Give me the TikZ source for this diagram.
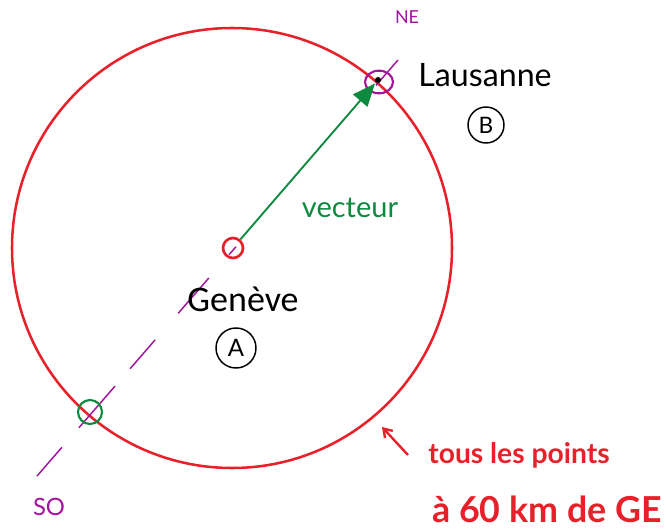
\documentclass[tikz,border=0pt]{standalone}
\usepackage{fontspec}
\setmainfont{Lato}
\newfontfamily\calib{Carlito}
\usetikzlibrary{arrows.meta,calc,shapes.geometric}
\definecolor{inkred}{HTML}{E8202A}
\definecolor{inkgreen}{HTML}{0D8A3E}
\definecolor{inkmag}{HTML}{A3149C}
\tikzset{
  hand/.style={inner sep=0pt,outer sep=0pt},
  ring/.style={circle,draw,line width=1.6pt,inner sep=0pt},
  magline/.style={inkmag,line width=1.1pt},
}
\begin{document}
\begin{tikzpicture}[x=0.75pt,y=-0.75pt]
\useasboundingbox (0,0) rectangle (666,531);
% big circle
\node[circle,draw=inkred,line width=1.9pt,minimum size=330pt,inner sep=0pt] (big) at (232,248) {};
% dashed magenta diameter line
\coordinate (so) at (37,476);
\coordinate (ne) at (398,60);
\foreach \a/\b in {0/0.069,0.116/0.216,0.258/0.327,0.391/0.476,0.532/0.551,0.939/1}
  \draw[magline] ($(so)!\a!(ne)$) -- ($(so)!\b!(ne)$);
% small circles
\node[ring,draw=inkred,line width=2pt,minimum size=15pt] (ga) at (233,248) {};
\node[ring,draw=inkgreen,minimum size=18pt] (so2) at (90,412) {};
\node[ellipse,draw=inkmag,line width=1.6pt,minimum width=21pt,minimum height=17pt,inner sep=0pt] (lc) at (379,82) {};
\node[circle,fill=black,minimum size=4.5pt,inner sep=0pt] (dot) at (378,80) {};
% vector
\draw[inkgreen,line width=1.4pt,-{Triangle[length=17pt,width=14pt]},shorten >=1pt] (ga) -- (dot);
% labels
\node[hand,inkmag] (neT) at (407,17) {\resizebox{18pt}{!}{NE}};
\node[hand] (laus) at (485,75) {\resizebox{100pt}{!}{\Large Lausanne}};
\node[circle,draw,line width=1.1pt,minimum width=27pt,inner sep=0pt] (cb) at (486,125) {\fontsize{17pt}{17pt}\selectfont B};
\node[hand,inkgreen] (vec) at (350,208) {\resizebox{72pt}{!}{vecteur}};
\node[hand] (gen) at (243,299) {\calib\fontsize{27pt}{32pt}\selectfont Genève};
\node[circle,draw,line width=1.1pt,minimum size=30pt,inner sep=0pt] (ca) at (236,348) {\fontsize{18pt}{18pt}\selectfont A};
\node[hand,inkmag] (soT) at (49,507) {\resizebox{24pt}{!}{SO}};
\node[hand,inkred] (t1) at (519,455) {\resizebox{136pt}{!}{\bfseries tous les points}};
\node[hand,inkred] (t2) at (547,509) {\resizebox{172pt}{!}{\bfseries à 60 km de GE}};
\coordinate (rt) at (382,427);
\draw[inkred,line width=1.8pt,-{Straight Barb[length=6pt,width=8pt]}] (408,455) -- (rt);
\end{tikzpicture}
\end{document}
